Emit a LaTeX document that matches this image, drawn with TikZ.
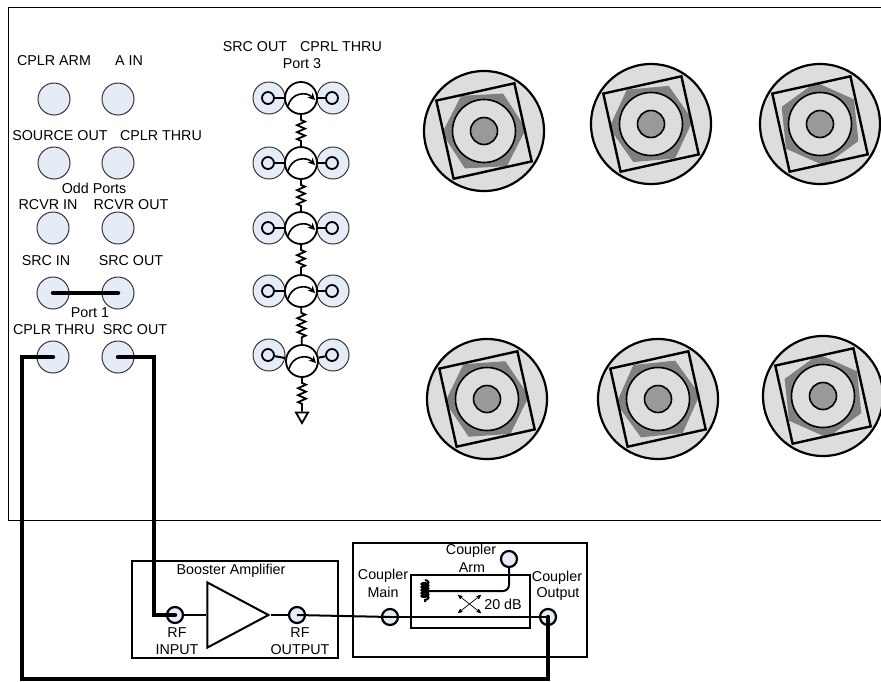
\documentclass[tikz,border=0pt]{standalone}
\usepackage{fontspec}
\setmainfont{Liberation Sans}
\usetikzlibrary{arrows,arrows.meta,shapes.geometric,decorations.pathmorphing}
\definecolor{portblue}{HTML}{E6ECF7}
\definecolor{nutgrey}{HTML}{DCDEDD}
\definecolor{hexgrey}{HTML}{808080}
\definecolor{coregrey}{HTML}{999999}
\tikzset{
	lbl/.style={inner sep=0pt,font=\fontsize{14.3}{15}\selectfont},
	port/.style={shape=circle,draw=black!80,fill=portblue,line width=1pt,inner sep=0pt,minimum size=32pt},
	smallport/.style={shape=circle,draw,fill=portblue,line width=1.8pt,inner sep=0pt,minimum size=12pt},
	rfport/.style={shape=circle,draw,fill=portblue,line width=2.2pt,inner sep=0pt,minimum size=16pt},
	circulator/.style={shape=circle,draw,fill=white,line width=1.8pt,inner sep=0pt,minimum size=32pt},
	cable/.style={line width=4.5pt,line cap=round,line join=miter},
	wire/.style={line width=2pt},
	res/.style={line width=1.8pt,decorate,decoration={zigzag,segment length=7pt,amplitude=4pt,pre length=5pt,post length=5pt}}
}
\newcommand*\bignut[4]{
	\node (#1disc) at (#2,#3) [shape=circle,draw,fill=nutgrey,line width=2.2pt,inner sep=0pt,minimum size=120pt] {};
	\node (#1hex) at (#2,#3) [regular polygon,regular polygon sides=6,fill=hexgrey,inner sep=0pt,minimum size=84pt,rotate=#4] {};
	\node (#1square) at (#2,#3) [shape=rectangle,draw,line width=2.4pt,inner sep=0pt,minimum size=80pt,rotate=12.5] {};
	\node (#1ring) at (#2,#3) [shape=circle,draw,fill=nutgrey,line width=1.6pt,inner sep=0pt,minimum size=63pt] {};
	\node (#1core) at (#2,#3) [shape=circle,draw,fill=coregrey,line width=1.6pt,inner sep=0pt,minimum size=27pt] {};
}

\begin{document}
\begin{tikzpicture}[x=1pt,y=-1pt,>=stealth']
	\useasboundingbox (0,0) rectangle (881,681);
	% panel
	\draw[line width=1pt] (881,7) -- (8,7) -- (8,520) -- (881,520);

	% ports on the left
	\foreach \nm/\x/\y in {cplrarm/54/99,ain/118/99,sourceout/54/163,cplrthrua/118/163,
		rcvrin/53/228,rcvrout/118/228,srcin/53/293,srcouta/118/293,cplrthrub/53/357,srcoutb/118/357}{
		\node (\nm) at (\x,\y) [port] {};
	}
	\node (l1) at (54,61) [lbl] {CPLR ARM};
	\node (l2) at (129,61) [lbl] {A IN};
	\node (l3) at (60,136) [lbl] {SOURCE OUT};
	\node (l4) at (161,136) [lbl] {CPLR THRU};
	\node (l5) at (94,188) [lbl] {Odd Ports};
	\node (l6) at (48,205) [lbl] {RCVR IN};
	\node (l7) at (131,205) [lbl] {RCVR OUT};
	\node (l8) at (46,261) [lbl] {SRC IN};
	\node (l9) at (131,261) [lbl] {SRC OUT};
	\node (l10) at (90,313) [lbl] {Port 1};
	\node (l11) at (54,330) [lbl] {CPLR THRU};
	\node (l12) at (135,330) [lbl] {SRC OUT};

	% circulators
	\node (l13) at (255,47) [lbl] {SRC OUT};
	\node (l14) at (341,47) [lbl] {CPRL THRU};
	\node (l15) at (302,64) [lbl] {Port 3};
	\foreach \i/\x/\y/\py in {1/301/98/98,2/301/163/163,3/301/228/228,4/301/291/291,5/302/361/355}{
		\node (pl\i) at (269,\py) [port] {};
		\node (pr\i) at (333,\py) [port] {};
		\node (sl\i) at (268,\py) [smallport] {};
		\node (sr\i) at (332,\py) [smallport] {};
		\node (c\i) at (\x,\y) [circulator] {};
		\draw[wire] (sl\i) -- (c\i);
		\draw[wire] (sr\i) -- (c\i);
		\draw[line width=1.6pt,-{Stealth[length=7pt,width=7pt]}] ([shift={(-13,8)}]c\i.center) .. controls ([shift={(-10,-5)}]c\i.center) and ([shift={(5,-7)}]c\i.center) .. ([shift={(14,2)}]c\i.center);
	}
	\node (gnd) at (302,416) [regular polygon,regular polygon sides=3,shape border rotate=180,draw,line width=1.8pt,inner sep=0pt,minimum size=14pt] {};
	\draw[res] (c1) -- (c2);
	\draw[res] (c2) -- (c3);
	\draw[res] (c3) -- (c4);
	\draw[res] (c4) -- (c5);
	\draw[res] (c5) -- (gnd);

	% big connectors
	\bignut{na}{484}{131}{3}
	\bignut{nb}{651}{124}{5}
	\bignut{nc}{820}{124}{36}
	\bignut{nd}{487}{399}{4}
	\bignut{ne}{658}{399}{6}
	\bignut{nf}{823}{396}{36}

	% booster amplifier
	\node (booster) at (235,609.5) [shape=rectangle,draw,line width=2pt,minimum width=206pt,minimum height=97pt,inner sep=0pt] {};
	\node (l16) at (231,571) [lbl] {Booster Amplifier};
	\node (rfin) at (175,615) [rfport] {};
	\node (rfout) at (297,615) [rfport] {};
	\node (amp) at (227,615) [isosceles triangle,isosceles triangle stretches,draw,line width=2pt,minimum width=65pt,minimum height=61pt,inner sep=0pt] {};
	\node (l17) at (177,633) [lbl] {RF};
	\node (l18) at (177,650) [lbl] {INPUT};
	\node (l19) at (300,633) [lbl] {RF};
	\node (l20) at (300,650) [lbl] {OUTPUT};
	\draw[wire] (rfin) -- (amp.west);
	\draw[wire] (amp.east) -- (rfout);

	% coupler
	\node (coupler) at (470,600) [shape=rectangle,draw,line width=2pt,minimum width=234pt,minimum height=114pt,inner sep=0pt] {};
	\node (inner) at (470.5,601.5) [shape=rectangle,draw,line width=2pt,minimum width=119pt,minimum height=53pt,inner sep=0pt] {};
	\node (l21) at (471,551) [lbl] {Coupler};
	\node (l22) at (472,568) [lbl] {Arm};
	\node (l23) at (383,576) [lbl] {Coupler};
	\node (l24) at (383,592) [lbl] {Main};
	\node (l25) at (557,578) [lbl] {Coupler};
	\node (l26) at (558,594) [lbl] {Output};
	\node (l27) at (503,604) [lbl] {20 dB};
	\node (main) at (390,617) [rfport] {};
	\node (output) at (548,617) [rfport] {};
	\node (arm) at (509,559) [rfport] {};
	\coordinate (coilbot) at (425,602);
	\coordinate (coiltop) at (425,580);
	\coordinate (armend) at (425,591);
	\draw[wire] (main.center) -- (output.center);
	\draw[wire,rounded corners=6pt] (arm) |- (armend);
	\draw[line width=2pt,decorate,decoration={coil,segment length=3pt,amplitude=3.5pt}] (coiltop) -- (coilbot);
	\draw[<->,line width=0.7pt] (458,595) -- (481,613);
	\draw[<->,line width=0.7pt] (458,613) -- (481,595);
	\draw[wire] (rfout.center) -- (main.center);

	% cables
	\draw[cable] (srcin.center) -- (srcouta.center);
	\draw[cable] (srcoutb.center) -- (154,357) |- (rfin.center);
	\draw[cable] (cplrthrub.center) -- (22,357) -- (22,679) -| (output.center);
\end{tikzpicture}
\end{document}
